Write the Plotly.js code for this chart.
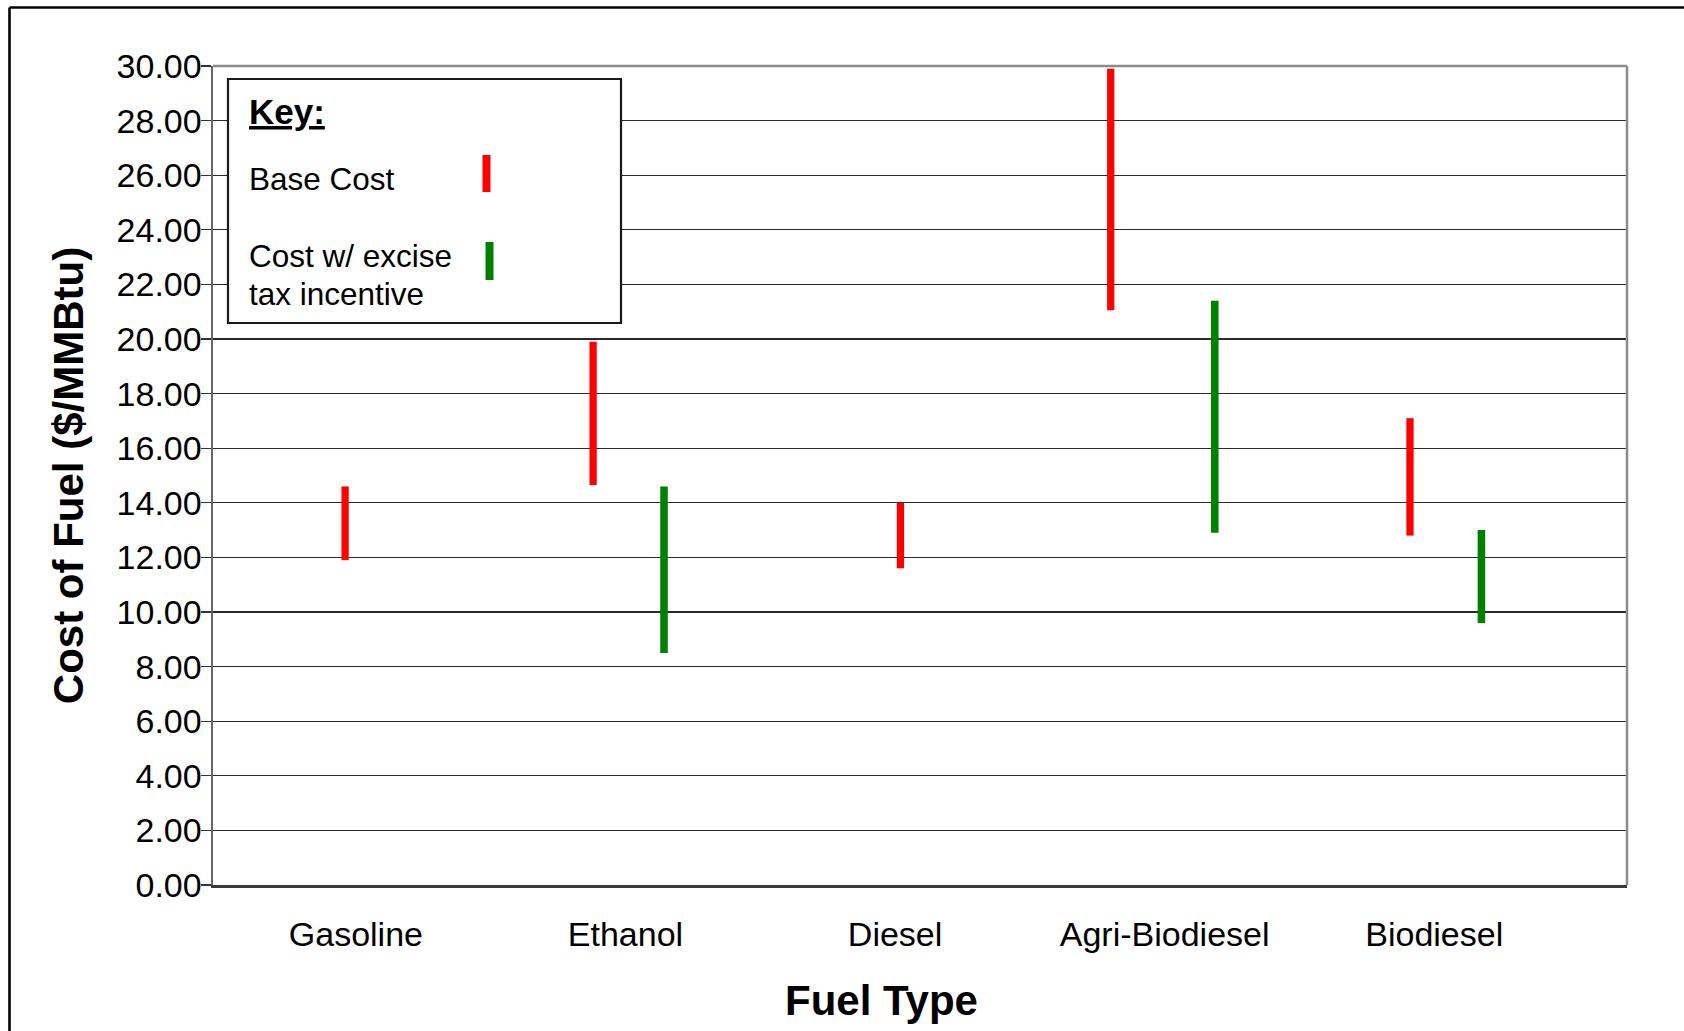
<!DOCTYPE html>
<html>
<head>
<meta charset="utf-8">
<script src="https://cdn.plot.ly/plotly-3.0.1.min.js"></script>
<style>
  html, body { margin: 0; padding: 0; background: #ffffff; }
  #chart { width: 1684px; height: 1031px; }
</style>
</head>
<body>
<div id="chart"></div>
<script>
// ---- Data ----
const categories = ['Gasoline', 'Ethanol', 'Diesel', 'Agri-Biodiesel', 'Biodiesel'];
const baseCostLow  = [11.9, 14.65, 11.6, 21.05, 12.8];
const baseCostHigh = [14.6, 19.9, 14.0, 29.9, 17.1];

const incentiveCategories = ['Ethanol', 'Agri-Biodiesel', 'Biodiesel'];
const incentiveLow  = [8.5, 12.9, 9.6];
const incentiveHigh = [14.6, 21.4, 13.0];

const yTickValues = [0, 2, 4, 6, 8, 10, 12, 14, 16, 18, 20, 22, 24, 26, 28, 30];
const yTickLabels = ['0.00', '2.00', '4.00', '6.00', '8.00', '10.00', '12.00', '14.00',
                     '16.00', '18.00', '20.00', '22.00', '24.00', '26.00', '28.00', '30.00'];

const xAxisTitle = 'Fuel Type';
const yAxisTitle = 'Cost of Fuel ($/MMBtu)';
const legendTitle = 'Key:';
const legendBaseLabel = 'Base Cost';
const legendIncentiveLines = ['Cost w/ excise', 'tax incentive'];

// ---- Layout geometry (pixels) ----
const W = 1684, H = 1031;
const M = { l: 213, r: 57, t: 66, b: 146 };
const PW = W - M.l - M.r, PH = H - M.t - M.b;
const px = x => (x - M.l) / PW;
const py = y => (H - M.b - y) / PH;

const FONT = '"Liberation Sans", Arial, Helvetica, sans-serif';

// bar placement within each category (category units)
const redWidth = 0.027, greenWidth = 0.028;
const redCenterShift = [-0.04, -0.12, 0.02, -0.20, -0.09];
const greenCenterShift = [0.143, 0.186, 0.175];

const baseTrace = {
  type: 'bar',
  name: 'Base Cost',
  x: categories,
  base: baseCostLow,
  y: baseCostHigh.map((h, i) => h - baseCostLow[i]),
  width: redWidth,
  offset: redCenterShift.map(c => c - redWidth / 2),
  marker: { color: '#ff0000', line: { width: 0 } },
  hoverinfo: 'skip',
  showlegend: false
};

const incentiveTrace = {
  type: 'bar',
  name: 'Cost w/ excise tax incentive',
  x: incentiveCategories,
  base: incentiveLow,
  y: incentiveHigh.map((h, i) => h - incentiveLow[i]),
  width: greenWidth,
  offset: greenCenterShift.map(c => c - greenWidth / 2),
  marker: { color: '#008000', line: { width: 0 } },
  hoverinfo: 'skip',
  showlegend: false
};

const shapes = [
  // outer frame (top and left edges)
  { type: 'line', xref: 'paper', yref: 'paper', x0: px(9.5), x1: px(1700), y0: py(7.5), y1: py(7.5),
    line: { color: '#000000', width: 2.6 }, layer: 'above' },
  { type: 'line', xref: 'paper', yref: 'paper', x0: px(9.5), x1: px(9.5), y0: py(7.5), y1: py(1040),
    line: { color: '#000000', width: 2.6 }, layer: 'above' },
  // plot border top & right (grey)
  { type: 'line', xref: 'paper', yref: 'paper', x0: 0, x1: 1, y0: 1, y1: 1,
    line: { color: '#8c8c8c', width: 2.5 }, layer: 'above' },
  { type: 'line', xref: 'paper', yref: 'paper', x0: 1, x1: 1, y0: 0, y1: 1,
    line: { color: '#8c8c8c', width: 2.5 }, layer: 'above' },
  // legend box
  { type: 'rect', xref: 'paper', yref: 'paper', x0: px(228), x1: px(621), y0: py(79), y1: py(323),
    line: { color: '#1a1a1a', width: 2.2 }, fillcolor: '#ffffff', layer: 'above' },
  // legend swatches
  { type: 'rect', xref: 'paper', yref: 'paper', x0: px(482.5), x1: px(490.5), y0: py(155), y1: py(192),
    line: { width: 0 }, fillcolor: '#ff0000', layer: 'above' },
  { type: 'rect', xref: 'paper', yref: 'paper', x0: px(485.5), x1: px(493.5), y0: py(242), y1: py(280),
    line: { width: 0 }, fillcolor: '#008000', layer: 'above' }
];

const annotations = [
  { xref: 'paper', yref: 'paper', x: px(247), y: py(111), xanchor: 'left', yanchor: 'middle',
    text: '<b><u>' + legendTitle + '</u></b>', showarrow: false,
    font: { family: FONT, size: 35, color: '#000000' } },
  { xref: 'paper', yref: 'paper', x: px(247), y: py(179.5), xanchor: 'left', yanchor: 'middle',
    text: legendBaseLabel, showarrow: false,
    font: { family: FONT, size: 31.5, color: '#000000' } },
  { xref: 'paper', yref: 'paper', x: px(247), y: py(256), xanchor: 'left', yanchor: 'middle',
    text: legendIncentiveLines[0], showarrow: false,
    font: { family: FONT, size: 31.5, color: '#000000' } },
  { xref: 'paper', yref: 'paper', x: px(247), y: py(294), xanchor: 'left', yanchor: 'middle',
    text: legendIncentiveLines[1], showarrow: false,
    font: { family: FONT, size: 31.5, color: '#000000' } },
  // x-axis title (placed to match the reference, slightly left of plot centre)
  { xref: 'paper', yref: 'paper', x: px(881), y: py(1000), xanchor: 'center', yanchor: 'middle',
    text: '<b>' + xAxisTitle + '</b>', showarrow: false,
    font: { family: FONT, size: 42, color: '#000000' } }
];

const layout = {
  width: W, height: H,
  margin: M,
  paper_bgcolor: '#ffffff',
  plot_bgcolor: '#ffffff',
  font: { family: FONT, color: '#000000' },
  barmode: 'overlay',
  showlegend: false,
  xaxis: {
    type: 'category',
    categoryorder: 'array',
    categoryarray: categories,
    range: [-0.53, 4.715],
    showgrid: false,
    zeroline: false,
    showline: true,
    linecolor: '#3a3a3a',
    linewidth: 2.5,
    ticks: '',
    ticklabelstandoff: 18,
    tickfont: { family: FONT, size: 34, color: '#000000' },
    automargin: false,
    fixedrange: true
  },
  yaxis: {
    range: [0, 30],
    tickmode: 'array',
    tickvals: yTickValues,
    ticktext: yTickLabels,
    showgrid: true,
    gridcolor: '#2a2a2a',
    gridwidth: 1.2,
    zeroline: false,
    showline: true,
    linecolor: '#666666',
    linewidth: 2.5,
    ticks: 'outside',
    ticklen: 10,
    tickwidth: 1.2,
    tickcolor: '#333333',
    ticklabelstandoff: -8,
    tickfont: { family: FONT, size: 34, color: '#000000' },
    title: { text: '<b>' + yAxisTitle + '</b>', font: { family: FONT, size: 42, color: '#000000' }, standoff: 20 },
    automargin: false,
    fixedrange: true
  },
  shapes: shapes,
  annotations: annotations
};

Plotly.newPlot('chart', [baseTrace, incentiveTrace], layout, { staticPlot: true, displayModeBar: false });
</script>
</body>
</html>
